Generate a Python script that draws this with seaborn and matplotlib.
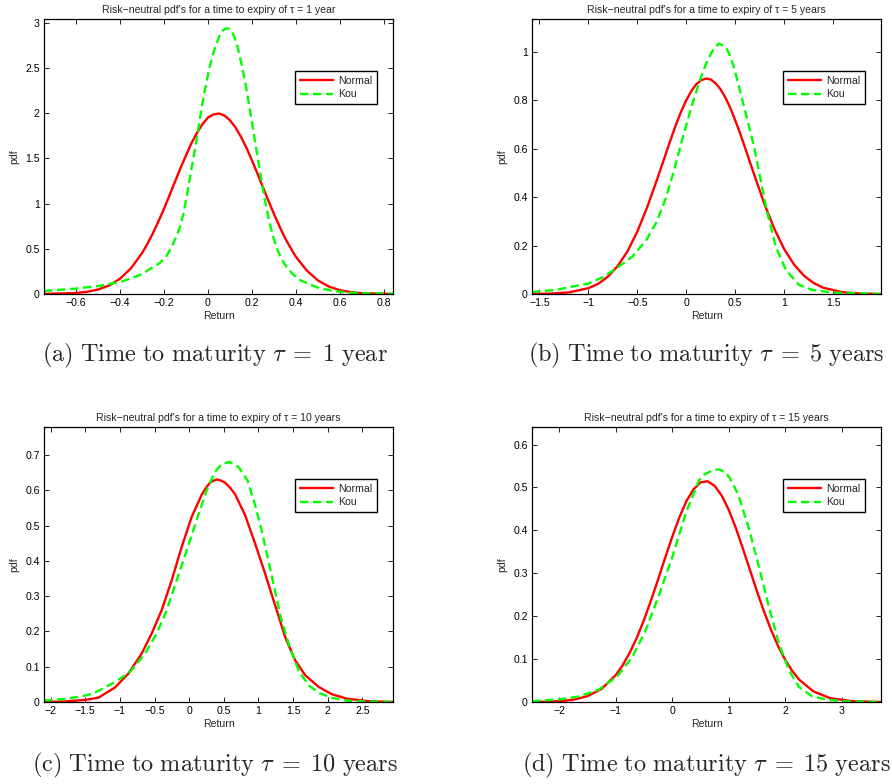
import numpy as np
import pandas as pd
import seaborn as sns
import matplotlib
matplotlib.use("Agg")
import matplotlib.pyplot as plt
from matplotlib.ticker import FuncFormatter, MultipleLocator

# ---------------- data ----------------
# Panel (a): tau = 1 year
a_normal_x = [-0.745, -0.6, -0.55, -0.5, -0.45, -0.4, -0.35, -0.3, -0.275, -0.25, -0.225, -0.2,
              -0.175, -0.15, -0.125, -0.1, -0.075, -0.05, -0.025, 0.0, 0.025, 0.05, 0.075, 0.1,
              0.125, 0.15, 0.175, 0.2, 0.225, 0.25, 0.275, 0.3, 0.325, 0.35, 0.375, 0.4, 0.45,
              0.5, 0.55, 0.6, 0.65, 0.7, 0.841]
a_normal_y = [0.001, 0.011, 0.024, 0.049, 0.093, 0.168, 0.284, 0.45, 0.555, 0.672, 0.802, 0.94,
              1.089, 1.24, 1.39, 1.53, 1.667, 1.78, 1.877, 1.95, 1.985, 1.995, 1.973, 1.921,
              1.842, 1.738, 1.615, 1.478, 1.331, 1.18, 1.03, 0.885, 0.749, 0.62, 0.512, 0.41,
              0.257, 0.15, 0.082, 0.042, 0.021, 0.009, 0.0005]
a_kou_x = [-0.745, -0.6, -0.491, -0.388, -0.309, -0.28, -0.249, -0.22, -0.188, -0.165, -0.143,
           -0.127, -0.112, -0.097, -0.082, -0.067, -0.052, -0.037, -0.022, -0.007, 0.008, 0.024,
           0.039, 0.054, 0.069, 0.082, 0.096, 0.109, 0.122, 0.137, 0.152, 0.168, 0.183, 0.198,
           0.213, 0.228, 0.243, 0.258, 0.274, 0.292, 0.311, 0.333, 0.357, 0.385, 0.418, 0.494,
           0.569, 0.645, 0.72, 0.841]
a_kou_y = [0.033, 0.06, 0.09, 0.14, 0.21, 0.25, 0.30, 0.34, 0.42, 0.52, 0.64, 0.74, 0.88, 1.07,
           1.28, 1.49, 1.70, 1.93, 2.15, 2.34, 2.51, 2.66, 2.77, 2.86, 2.915, 2.935, 2.935, 2.90,
           2.83, 2.71, 2.55, 2.36, 2.15, 1.93, 1.70, 1.48, 1.26, 1.05, 0.855, 0.67, 0.52, 0.39,
           0.30, 0.22, 0.155, 0.074, 0.033, 0.015, 0.007, 0.002]

# Panel (b): tau = 5 years
b_normal_x = [-1.575, -1.4, -1.2, -1.0, -0.9, -0.8, -0.7, -0.6, -0.5, -0.4, -0.3, -0.25, -0.2,
              -0.15, -0.1, -0.05, 0.0, 0.05, 0.1, 0.15, 0.2, 0.25, 0.3, 0.35, 0.4, 0.45, 0.5,
              0.55, 0.6, 0.65, 0.7, 0.8, 0.9, 1.0, 1.1, 1.2, 1.3, 1.4, 1.6, 1.8, 1.986]
b_normal_y = [0.0003, 0.0015, 0.0065, 0.024, 0.042, 0.072, 0.116, 0.177, 0.258, 0.358, 0.472,
              0.531, 0.591, 0.650, 0.706, 0.757, 0.801, 0.838, 0.866, 0.883, 0.89, 0.886, 0.870,
              0.845, 0.810, 0.767, 0.716, 0.662, 0.603, 0.543, 0.484, 0.368, 0.267, 0.184, 0.121,
              0.0756, 0.0449, 0.0254, 0.007, 0.0016, 0.0003]
b_kou_x = [-1.575, -1.333, -0.993, -0.85, -0.70, -0.55, -0.408, -0.30, -0.204, -0.12, -0.034,
           0.05, 0.139, 0.20, 0.26, 0.33, 0.40, 0.435, 0.475, 0.520, 0.605, 0.690, 0.759, 0.827,
           0.912, 1.014, 1.15, 1.286, 1.49, 1.986]
b_kou_y = [0.008, 0.017, 0.044, 0.07, 0.11, 0.155, 0.223, 0.30, 0.402, 0.52, 0.65, 0.77, 0.884,
           0.95, 1.0, 1.035, 1.02, 0.995, 0.95, 0.884, 0.747, 0.61, 0.47, 0.333, 0.196, 0.10,
           0.037, 0.017, 0.006, 0.0]

# Panel (c): tau = 10 years
c_normal_x = [-2.096, -1.8, -1.5, -1.313, -1.072, -0.88, -0.687, -0.542, -0.398, -0.253, -0.108,
              0.036, 0.181, 0.24, 0.301, 0.35, 0.398, 0.46, 0.518, 0.59, 0.663, 0.807, 0.952,
              1.096, 1.241, 1.386, 1.530, 1.675, 1.867, 2.06, 2.277, 2.6, 2.942]
c_normal_y = [0.0003, 0.0015, 0.006, 0.012, 0.041, 0.080, 0.137, 0.194, 0.260, 0.345, 0.44,
              0.525, 0.588, 0.607, 0.622, 0.628, 0.631, 0.628, 0.622, 0.608, 0.589, 0.530,
              0.449, 0.364, 0.274, 0.184, 0.118, 0.076, 0.043, 0.022, 0.0095, 0.002, 0.0003]
c_kou_x = [-2.096, -1.77, -1.48, -1.313, -1.072, -0.855, -0.639, -0.47, -0.325, -0.181, -0.036,
           0.108, 0.253, 0.373, 0.47, 0.581, 0.711, 0.84, 0.945, 1.045, 1.185, 1.32, 1.45,
           1.578, 1.723, 1.892, 2.06, 2.277, 2.6, 2.942]
c_kou_y = [0.004, 0.009, 0.019, 0.031, 0.057, 0.085, 0.137, 0.194, 0.26, 0.345, 0.43, 0.516,
           0.601, 0.653, 0.675, 0.681, 0.667, 0.629, 0.563, 0.487, 0.364, 0.241, 0.156, 0.090,
           0.047, 0.024, 0.012, 0.004, 0.001, 0.0003]

# Panel (d): tau = 15 years
d_normal_x = [-2.484, -2.2, -2.0, -1.75, -1.5, -1.25, -1.0, -0.875, -0.75, -0.625, -0.5, -0.375,
              -0.25, -0.125, 0.0, 0.125, 0.25, 0.375, 0.5, 0.625, 0.75, 0.875, 1.0, 1.125, 1.25,
              1.375, 1.5, 1.625, 1.75, 1.875, 2.0, 2.125, 2.25, 2.5, 2.8, 3.2, 3.697]
d_normal_y = [0.0002, 0.0008, 0.0019, 0.0054, 0.0136, 0.0307, 0.0627, 0.0863, 0.1156, 0.1506,
              0.1916, 0.2372, 0.286, 0.3365, 0.385, 0.430, 0.468, 0.4955, 0.512, 0.5145, 0.504,
              0.4813, 0.448, 0.406, 0.358, 0.3083, 0.258, 0.211, 0.168, 0.130, 0.0984, 0.0724,
              0.0519, 0.0247, 0.0088, 0.0018, 0.0001]
d_kou_x = [-2.484, -2.0, -1.652, -1.298, -0.973, -0.707, -0.471, -0.235, 0.001, 0.237, 0.473,
           0.56, 0.651, 0.74, 0.828, 0.92, 1.005, 1.09, 1.182, 1.359, 1.536, 1.713, 1.89, 2.067,
           2.244, 2.48, 2.776, 3.07, 3.697]
d_kou_y = [0.002, 0.006, 0.013, 0.029, 0.06, 0.105, 0.167, 0.249, 0.338, 0.439, 0.517, 0.529,
           0.536, 0.541, 0.542, 0.537, 0.525, 0.505, 0.478, 0.404, 0.315, 0.221, 0.136, 0.074,
           0.035, 0.013, 0.0047, 0.0016, 0.0]

taus = ["1 year", "5 years", "10 years", "15 years"]
letters = ["a", "b", "c", "d"]
xlims = [(-0.745, 0.841), (-1.575, 1.986), (-2.096, 2.942), (-2.484, 3.697)]
ylims = [(0, 3.04), (0, 1.136), (0, 0.78), (0, 0.641)]
xsteps = [0.2, 0.5, 0.5, 1.0]
ysteps = [0.5, 0.2, 0.1, 0.1]

panels = [
    (a_normal_x, a_normal_y, a_kou_x, a_kou_y),
    (b_normal_x, b_normal_y, b_kou_x, b_kou_y),
    (c_normal_x, c_normal_y, c_kou_x, c_kou_y),
    (d_normal_x, d_normal_y, d_kou_x, d_kou_y),
]

# ---------------- style ----------------
sns.set_style("white")
plt.rcParams["font.family"] = ["Liberation Sans", "DejaVu Sans"]
plt.rcParams["mathtext.fontset"] = "cm"
plt.rcParams["axes.unicode_minus"] = True
plt.rcParams["lines.solid_joinstyle"] = "round"
plt.rcParams["lines.dash_joinstyle"] = "round"

FS = 7.6
fig = plt.figure(figsize=(8.92, 7.84), dpi=100)

W, H = 892.0, 784.0
ax_w, ax_h = 349 / W, 275 / H
lefts = [44 / W, 532 / W, 44 / W, 532 / W]
bottoms = [1 - 294 / H, 1 - 294 / H, 1 - 702 / H, 1 - 702 / H]


def fmt(v, pos):
    v = round(v, 6)
    if v == 0:
        return "0"
    return ("%g" % v).replace("-", "\u2212")


for i, (nx, ny, kx, ky) in enumerate(panels):
    ax = fig.add_axes([lefts[i], bottoms[i], ax_w, ax_h])
    sns.lineplot(x=nx, y=ny, color="#ff0000", linewidth=1.7, ax=ax, label="Normal",
                 sort=False)
    sns.lineplot(x=kx, y=ky, color="#00ff00", linewidth=1.7, ax=ax, label="Kou",
                 linestyle=(0, (3.6, 1.9)), sort=False)
    ax.set_xlim(*xlims[i])
    ax.set_ylim(*ylims[i])
    ax.xaxis.set_major_locator(MultipleLocator(xsteps[i]))
    ax.yaxis.set_major_locator(MultipleLocator(ysteps[i]))
    ax.xaxis.set_major_formatter(FuncFormatter(fmt))
    ax.yaxis.set_major_formatter(FuncFormatter(fmt))
    ax.tick_params(direction="in", length=3.5, width=0.6, top=True, right=True,
                   bottom=True, left=True, labelsize=FS, pad=3, colors="black")
    for s in ax.spines.values():
        s.set_visible(True)
        s.set_color("black")
        s.set_linewidth(0.9)
    ax.set_xlabel("Return", fontsize=FS, labelpad=2)
    ax.set_ylabel("pdf", fontsize=FS, labelpad=4)
    ax.set_title("Risk\u2212neutral pdf's for a time to expiry of \u03c4 = " + taus[i],
                 fontsize=FS, pad=4)
    leg = ax.legend(loc="upper left", bbox_to_anchor=(0.719, 0.811), frameon=True,
                    fancybox=False, edgecolor="black", framealpha=1, fontsize=FS,
                    handlelength=3.2, handletextpad=0.4, borderpad=0.45,
                    labelspacing=0.35, borderaxespad=0)
    leg.get_frame().set_linewidth(1.0)

    num, unit = taus[i].split(" ")
    cap = (r"$\mathrm{(" + letters[i] + r")\ Time\ to\ maturity}\ \tau\;{=}\;" + num +
           r"\ \mathrm{" + unit + r"}$")
    cx = 215 / W if i % 2 == 0 else 706 / W
    cy = 1 - 355 / H if i < 2 else 1 - 765 / H
    fig.text(cx, cy, cap, ha="center", va="center", fontsize=17.5)

fig.savefig("out.png", dpi=100)
